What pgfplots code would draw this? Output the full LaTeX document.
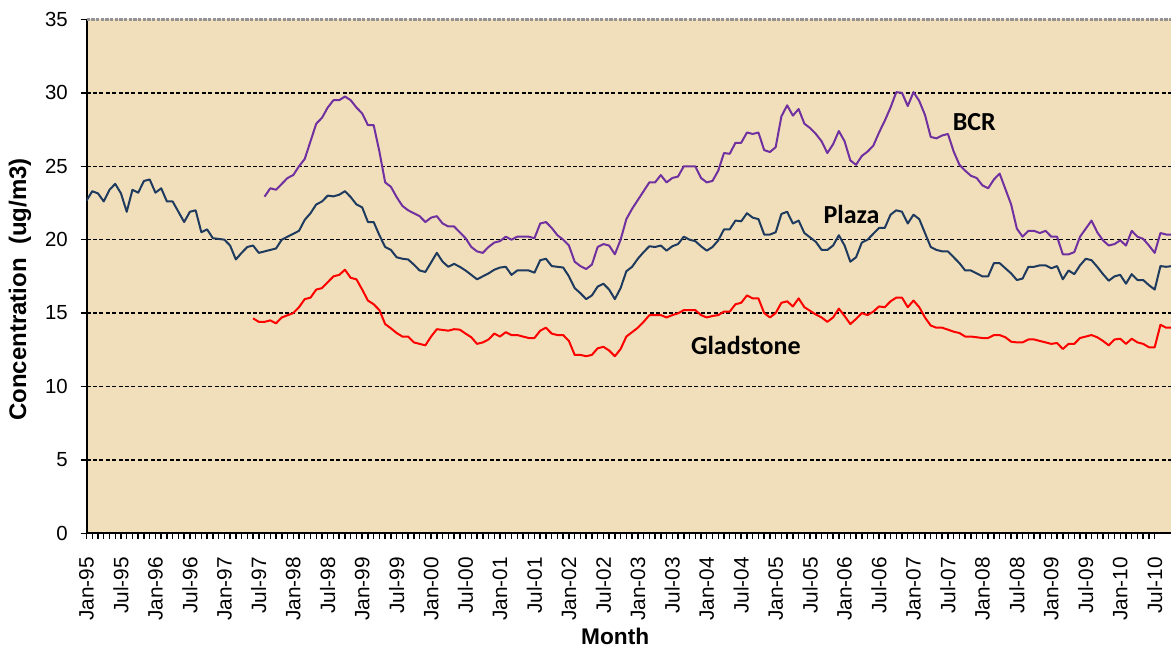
\documentclass[border=0pt]{standalone}
\usepackage{pgfplots}
\pgfplotsset{compat=1.18}
\usepackage{fontspec}
\setmainfont{Liberation Sans}
\newfontfamily\calibri{Carlito}
\definecolor{parch}{HTML}{F0DFBA}
\definecolor{bcr}{HTML}{7030A0}
\definecolor{plaza}{HTML}{1F3A5F}
\definecolor{glad}{HTML}{FF0000}
\begin{document}
\begin{tikzpicture}
\begin{axis}[
  at={(0,0)}, anchor=south west,
  scale only axis, width=813.4pt, height=385.35pt,
  xmin=0, xmax=188.84, ymin=0, ymax=35,
  axis x line*=bottom, axis y line*=left,
  axis line style={line width=1.5pt, black},
  axis background/.style={fill=parch},
  xtick={0,6,...,186},
  xticklabels={Jan-95,Jul-95,Jan-96,Jul-96,Jan-97,Jul-97,Jan-98,Jul-98,Jan-99,Jul-99,Jan-00,Jul-00,Jan-01,Jul-01,Jan-02,Jul-02,Jan-03,Jul-03,Jan-04,Jul-04,Jan-05,Jul-05,Jan-06,Jul-06,Jan-07,Jul-07,Jan-08,Jul-08,Jan-09,Jul-09,Jan-10,Jul-10},
  minor x tick num=5,
  ytick={0,5,10,15,20,25,30},
  yticklabels={0,5,10,15,20,25,30},
  extra y ticks={35}, extra y tick labels={35},
  extra y tick style={grid style={gray!85, line width=2pt, dash pattern=on 2.5pt off 1pt}},
  ymajorgrids,
  grid style={black, line width=1pt, dash pattern=on 3pt off 1.8pt},
  tick align=outside,
  major tick length=4.5pt, minor tick length=4.5pt,
  tick style={black, line width=1.1pt},
  yticklabel style={font=\fontsize{15.3}{18}\selectfont, xshift=-6pt},
  xticklabel style={font=\fontsize{15.6}{18}\selectfont, rotate=90, anchor=east},
  xticklabel shift=10pt,
  xlabel={Month},
  xlabel style={at={(axis description cs:0.4875,-0.1999)}, anchor=center, font=\bfseries\fontsize{17}{20}\selectfont},
  ylabel={Concentration\ \ (ug/m3)},
  ylabel style={at={(axis description cs:-0.0613,0.4745)}, anchor=center, rotate=0, font=\bfseries\fontsize{18}{20}\selectfont},
  clip=true,
  every axis plot/.append style={line width=1.5pt, line join=round, mark=none},
]
% Plaza
\addplot[plaza] coordinates {
(0,22.66)(1,23.3)(2,23.15)(3,22.6)(4,23.4)(5,23.8)(6,23.15)(7,21.9)(8,23.4)(9,23.2)
(10,24.0)(11,24.1)(12,23.2)(13,23.5)(14,22.6)(15,22.6)(16,21.9)(17,21.2)(18,21.9)(19,22.0)
(20,20.5)(21,20.7)(22,20.1)(23,20.05)(24,20.0)(25,19.6)(26,18.65)(27,19.1)(28,19.5)(29,19.6)
(30,19.1)(31,19.2)(32,19.3)(33,19.4)(34,20.0)(35,20.2)(36,20.4)(37,20.6)(38,21.35)(39,21.8)
(40,22.4)(41,22.6)(42,23.0)(43,22.95)(44,23.06)(45,23.3)(46,22.9)(47,22.4)(48,22.2)(49,21.2)
(50,21.2)(51,20.3)(52,19.5)(53,19.3)(54,18.8)(55,18.7)(56,18.65)(57,18.3)(58,17.9)(59,17.8)
(60,18.45)(61,19.1)(62,18.5)(63,18.15)(64,18.35)(65,18.15)(66,17.9)(67,17.6)(68,17.3)(69,17.5)
(70,17.7)(71,17.95)(72,18.1)(73,18.15)(74,17.6)(75,17.9)(76,17.9)(77,17.9)(78,17.75)(79,18.6)
(80,18.7)(81,18.2)(82,18.15)(83,18.1)(84,17.5)(85,16.7)(86,16.35)(87,15.95)(88,16.2)(89,16.8)
(90,17.0)(91,16.6)(92,15.95)(93,16.7)(94,17.85)(95,18.15)(96,18.7)(97,19.15)(98,19.55)(99,19.5)
(100,19.6)(101,19.25)(102,19.55)(103,19.7)(104,20.2)(105,20.0)(106,19.9)(107,19.55)(108,19.25)(109,19.5)
(110,19.95)(111,20.7)(112,20.7)(113,21.3)(114,21.25)(115,21.8)(116,21.5)(117,21.4)(118,20.35)(119,20.35)
(120,20.5)(121,21.75)(122,21.9)(123,21.1)(124,21.3)(125,20.45)(126,20.15)(127,19.85)(128,19.3)(129,19.3)
(130,19.6)(131,20.3)(132,19.6)(133,18.5)(134,18.8)(135,19.8)(136,20.0)(137,20.4)(138,20.8)(139,20.8)
(140,21.7)(141,22.0)(142,21.9)(143,21.1)(144,21.7)(145,21.4)(146,20.45)(147,19.5)(148,19.3)(149,19.2)
(150,19.2)(151,18.8)(152,18.4)(153,17.9)(154,17.9)(155,17.7)(156,17.5)(157,17.5)(158,18.4)(159,18.4)
(160,18.05)(161,17.7)(162,17.25)(163,17.35)(164,18.15)(165,18.15)(166,18.25)(167,18.25)(168,18.05)(169,18.2)
(170,17.3)(171,17.9)(172,17.65)(173,18.25)(174,18.7)(175,18.6)(176,18.15)(177,17.65)(178,17.2)(179,17.5)
(180,17.6)(181,17.0)(182,17.65)(183,17.25)(184,17.25)(185,16.9)(186,16.6)(187,18.2)(188,18.15)(189,18.2)
};
% BCR
\addplot[bcr] coordinates {
(31,22.93)(32,23.5)(33,23.4)(34,23.8)(35,24.2)(36,24.4)(37,25.0)(38,25.5)(39,26.7)
(40,27.9)(41,28.3)(42,29.0)(43,29.5)(44,29.5)(45,29.75)(46,29.5)(47,29.0)(48,28.6)(49,27.8)
(50,27.8)(51,26.0)(52,23.9)(53,23.6)(54,22.9)(55,22.3)(56,22.0)(57,21.8)(58,21.6)(59,21.2)
(60,21.5)(61,21.6)(62,21.1)(63,20.9)(64,20.9)(65,20.5)(66,20.1)(67,19.5)(68,19.2)(69,19.1)
(70,19.5)(71,19.8)(72,19.9)(73,20.2)(74,20.0)(75,20.2)(76,20.2)(77,20.2)(78,20.1)(79,21.1)
(80,21.2)(81,20.8)(82,20.3)(83,20.0)(84,19.6)(85,18.5)(86,18.2)(87,18.0)(88,18.3)(89,19.5)
(90,19.7)(91,19.6)(92,19.0)(93,20.0)(94,21.4)(95,22.1)(96,22.7)(97,23.3)(98,23.9)(99,23.9)
(100,24.4)(101,23.9)(102,24.2)(103,24.3)(104,25.0)(105,25.0)(106,25.0)(107,24.2)(108,23.9)(109,24.0)
(110,24.7)(111,25.9)(112,25.85)(113,26.6)(114,26.6)(115,27.3)(116,27.2)(117,27.3)(118,26.1)(119,25.97)
(120,26.3)(121,28.4)(122,29.15)(123,28.45)(124,28.9)(125,27.9)(126,27.6)(127,27.2)(128,26.7)(129,25.9)
(130,26.5)(131,27.4)(132,26.7)(133,25.4)(134,25.1)(135,25.7)(136,26.0)(137,26.4)(138,27.3)(139,28.1)
(140,29.0)(141,30.05)(142,30.0)(143,29.1)(144,30.05)(145,29.45)(146,28.5)(147,27.0)(148,26.9)(149,27.1)
(150,27.2)(151,26.0)(152,25.1)(153,24.7)(154,24.35)(155,24.2)(156,23.7)(157,23.5)(158,24.1)(159,24.5)
(160,23.45)(161,22.4)(162,20.75)(163,20.2)(164,20.6)(165,20.6)(166,20.45)(167,20.6)(168,20.2)(169,20.2)
(170,19.0)(171,19.0)(172,19.15)(173,20.2)(174,20.75)(175,21.3)(176,20.5)(177,19.95)(178,19.6)(179,19.7)
(180,19.95)(181,19.6)(182,20.6)(183,20.2)(184,20.05)(185,19.6)(186,19.1)(187,20.45)(188,20.35)(189,20.35)
};
% Gladstone
\addplot[glad] coordinates {
(29,14.64)(30,14.4)(31,14.4)(32,14.5)(33,14.3)(34,14.7)(35,14.85)(36,15.0)(37,15.4)(38,15.95)(39,16.05)
(40,16.6)(41,16.7)(42,17.1)(43,17.5)(44,17.6)(45,17.95)(46,17.4)(47,17.3)(48,16.6)(49,15.85)
(50,15.6)(51,15.2)(52,14.25)(53,13.96)(54,13.64)(55,13.4)(56,13.4)(57,13.0)(58,12.9)(59,12.8)
(60,13.4)(61,13.9)(62,13.85)(63,13.8)(64,13.9)(65,13.87)(66,13.6)(67,13.35)(68,12.9)(69,13.0)
(70,13.2)(71,13.6)(72,13.4)(73,13.7)(74,13.5)(75,13.5)(76,13.4)(77,13.3)(78,13.3)(79,13.8)
(80,14.0)(81,13.6)(82,13.5)(83,13.5)(84,13.1)(85,12.15)(86,12.15)(87,12.06)(88,12.15)(89,12.6)
(90,12.7)(91,12.45)(92,12.06)(93,12.55)(94,13.4)(95,13.7)(96,14.0)(97,14.4)(98,14.85)(99,14.86)
(100,14.86)(101,14.7)(102,14.86)(103,14.98)(104,15.2)(105,15.2)(106,15.2)(107,14.86)(108,14.7)(109,14.8)
(110,14.86)(111,15.1)(112,15.1)(113,15.6)(114,15.7)(115,16.2)(116,16.0)(117,16.0)(118,15.0)(119,14.7)
(120,15.0)(121,15.7)(122,15.8)(123,15.45)(124,16.0)(125,15.4)(126,15.15)(127,14.9)(128,14.7)(129,14.4)
(130,14.7)(131,15.3)(132,14.8)(133,14.25)(134,14.6)(135,15.0)(136,14.86)(137,15.1)(138,15.45)(139,15.4)
(140,15.8)(141,16.05)(142,16.05)(143,15.4)(144,15.85)(145,15.4)(146,14.7)(147,14.15)(148,14.0)(149,14.0)
(150,13.87)(151,13.73)(152,13.64)(153,13.4)(154,13.4)(155,13.35)(156,13.3)(157,13.3)(158,13.5)(159,13.5)
(160,13.35)(161,13.05)(162,13.0)(163,13.0)(164,13.2)(165,13.2)(166,13.1)(167,13.0)(168,12.9)(169,12.96)
(170,12.55)(171,12.9)(172,12.9)(173,13.3)(174,13.4)(175,13.5)(176,13.35)(177,13.1)(178,12.8)(179,13.2)
(180,13.25)(181,12.9)(182,13.25)(183,13.0)(184,12.9)(185,12.67)(186,12.67)(187,14.2)(188,14.0)(189,14.0)
};
\node[anchor=base, font=\calibri\bfseries\fontsize{19.5}{22}\selectfont] at (axis cs:154.6,27.47) {BCR};
\node[anchor=base, font=\calibri\bfseries\fontsize{19.5}{22}\selectfont] at (axis cs:133.2,21.07) {Plaza};
\node[anchor=base, font=\calibri\bfseries\fontsize{19.5}{22}\selectfont] at (axis cs:114.8,12.15) {Gladstone};
\end{axis}
\pgfresetboundingbox
\path (-64.9pt,-85.3pt) rectangle (813.4pt,399.95pt);
\end{tikzpicture}
\end{document}
